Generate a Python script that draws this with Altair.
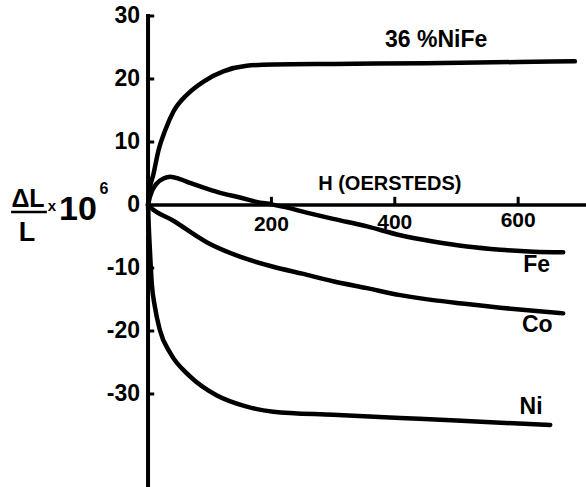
import altair as alt
import pandas as pd

# --- curve data (H in oersteds, dL/L x 1e6) ---
nife_h = [0, 1, 9, 17, 28, 41, 63, 90, 122, 160, 203, 300, 450, 600, 692]
nife_v = [0, 1.6, 5.0, 8.7, 11.9, 14.8, 17.5, 19.6, 21.2, 22.1, 22.3, 22.4, 22.5, 22.7, 22.8]
fe_h = [0, 3, 14, 25, 36, 52, 68, 95, 122, 149, 176, 200, 220, 257, 300, 355, 409, 462, 517, 571, 625, 673]
fe_v = [0, 1.3, 3.4, 4.2, 4.5, 4.1, 3.5, 2.6, 1.8, 1.2, 0.5, 0.1, -0.3, -1.2, -2.2, -3.4, -4.8, -5.8, -6.6, -7.1, -7.4, -7.5]
co_h = [0, 3, 41, 95, 149, 203, 250, 300, 355, 409, 462, 517, 571, 625, 673]
co_v = [0, -0.3, -2.5, -5.9, -8.2, -9.8, -10.9, -12.1, -13.2, -14.3, -15.1, -15.7, -16.3, -16.8, -17.2]
ni_h = [0, 1, 3, 6, 11, 19, 36, 68, 111, 160, 203, 300, 409, 500, 580, 652]
ni_v = [0, -3.0, -7.1, -12.4, -16.1, -19.8, -23.5, -27.2, -30.2, -32.0, -32.8, -33.3, -33.8, -34.2, -34.6, -34.9]

x_ticks = [200, 400, 600]
x_tick_labels = ["200", "400", "600"]
y_ticks = [30, 20, 10, -10, -20, -30]
y_label_vals = [30, 20, 10, 0, -10, -20, -30]
y_labels = ["30", "20", "10", "0", "-10", "-20", "-30"]

curve_names = ["36 %NiFe", "Fe", "Co", "Ni"]
curve_label_h = [467, 630, 631, 621]
curve_label_v = [26.2, -9.5, -19.0, -32.0]

FONT = "Liberation Sans, Arial, sans-serif"

rows = []
for name, hs, vs in [("nife", nife_h, nife_v), ("fe", fe_h, fe_v),
                     ("co", co_h, co_v), ("ni", ni_h, ni_v)]:
    for i, (h, v) in enumerate(zip(hs, vs)):
        rows.append({"series": name, "H": h, "V": v, "idx": i})
curves = pd.DataFrame(rows)

xs = alt.Scale(domain=[-240, 710], nice=False, zero=False)
ys = alt.Scale(domain=[-44.76, 32.54], nice=False, zero=False)


def X(f):
    return alt.X(f, scale=xs, axis=None)


def Y(f):
    return alt.Y(f, scale=ys, axis=None)


lines = alt.Chart(curves).mark_line(
    interpolate="monotone", strokeWidth=4.5, color="black", strokeCap="round"
).encode(x=X("H:Q"), y=Y("V:Q"), detail="series:N", order="idx:Q")

yaxis = alt.Chart(pd.DataFrame({"x": [0], "y": [30.3], "y2": [-44.76]})).mark_rule(
    color="black", strokeWidth=4
).encode(x=X("x:Q"), y=Y("y:Q"), y2="y2:Q")

xaxis = alt.Chart(pd.DataFrame({"y": [0], "x": [0], "x2": [710]})).mark_rule(
    color="black", strokeWidth=3.5
).encode(x=X("x:Q"), x2="x2:Q", y=Y("y:Q"))

yt = alt.Chart(pd.DataFrame({"y": y_ticks, "a": [0] * 6, "b": [10] * 6})).mark_rule(
    color="black", strokeWidth=3
).encode(x=X("a:Q"), x2="b:Q", y=Y("y:Q"))

xt = alt.Chart(pd.DataFrame({"x": x_ticks, "a": [0] * 3, "b": [1.3] * 3})).mark_rule(
    color="black", strokeWidth=3
).encode(x=X("x:Q"), y=Y("a:Q"), y2="b:Q")

xlab = alt.Chart(pd.DataFrame({"x": x_ticks, "t": x_tick_labels, "y": [-3.2, -2.8, -2.5]})).mark_text(
    font=FONT, fontSize=21, fontWeight="bold", baseline="middle", align="center"
).encode(x=X("x:Q"), y=Y("y:Q"), text="t:N")

ylab = alt.Chart(pd.DataFrame({"y": y_label_vals, "t": y_labels, "x": [-13] * 7})).mark_text(
    font=FONT, fontSize=23, fontWeight="bold", baseline="middle", align="right"
).encode(x=X("x:Q"), y=Y("y:Q"), text="t:N")

clab = alt.Chart(pd.DataFrame({"h": curve_label_h, "v": curve_label_v, "t": curve_names})).mark_text(
    font=FONT, fontSize=23, fontWeight="bold", baseline="middle", align="center"
).encode(x=X("h:Q"), y=Y("v:Q"), text="t:N")

hlab = alt.Chart(pd.DataFrame({"t": ["H (OERSTEDS)"], "x": [392], "y": [3.3]})).mark_text(
    font=FONT, fontSize=20, fontWeight="bold", baseline="middle", align="center"
).encode(x=X("x:Q"), y=Y("y:Q"), text="t:N")

# y axis title drawn as a fraction: ΔL / L x 10^6
title_df = pd.DataFrame({
    "t": ["ΔL", "L", "x", "10", "6"],
    "px": [28, 27, 52, 78, 104],
    "py": [199, 233, 206, 210, 189],
    "fs": [25, 27, 15, 34, 16],
})
ttl = alt.Chart(title_df).mark_text(
    font=FONT, fontWeight="bold", baseline="middle", align="center"
).encode(
    x=alt.X("px:Q", scale=alt.Scale(domain=[0, 586], nice=False, zero=False), axis=None),
    y=alt.Y("py:Q", scale=alt.Scale(domain=[487, 0], nice=False, zero=False), axis=None),
    text="t:N",
    size=alt.Size("fs:Q", scale=None, legend=None),
)
bar = alt.Chart(pd.DataFrame({"x": [-222], "x2": [-164], "y": [-1.1]})).mark_rule(
    color="black", strokeWidth=2.5
).encode(x=X("x:Q"), x2="x2:Q", y=Y("y:Q"))

main = alt.layer(yaxis, xaxis, yt, xt, lines, xlab, ylab, clab, hlab, bar)
chart = alt.layer(main, ttl).resolve_scale(x="independent", y="independent").properties(
    width=586, height=487, padding=0, autosize=alt.AutoSizeParams(type="none"),
    background="white"
).configure_view(stroke=None)

chart.save("out.html", embed_options={"renderer": "svg", "actions": False})
